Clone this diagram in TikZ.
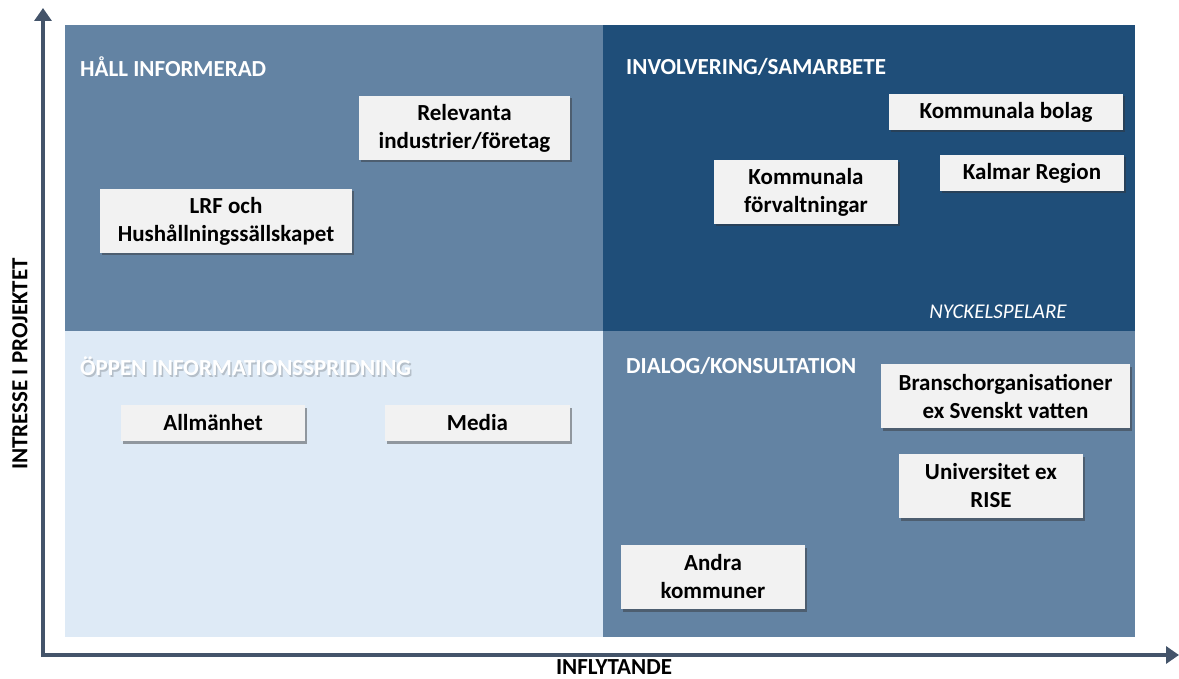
\documentclass[tikz,border=0pt]{standalone}
\usepackage{fontspec}
\setmainfont{Carlito}
\usetikzlibrary{shadows,arrows.meta}
\definecolor{midblue}{HTML}{6383A3}
\definecolor{darkblue}{HTML}{1F4E79}
\definecolor{lightblue}{HTML}{DEEAF6}
\definecolor{axiscol}{HTML}{44546A}
\definecolor{boxfill}{HTML}{F2F2F2}
\tikzset{
  stakebox/.style={draw=none, fill=boxfill, inner sep=0pt, align=center,
    font=\bfseries\fontsize{23}{28}\selectfont, text=black,
    drop shadow={shadow xshift=2pt, shadow yshift=-2.5pt, opacity=0.45, fill=black!80}},
  quadlabel/.style={anchor=west, text=white, font=\bfseries\fontsize{23}{28}\selectfont, inner sep=0pt},
  qshadow/.style={anchor=west, text=black, opacity=0.18, font=\bfseries\fontsize{23}{28}\selectfont, inner sep=0pt},
  axislabel/.style={font=\bfseries\fontsize{23}{28}\selectfont, text=black, inner sep=0pt},
  axisline/.style={draw=axiscol, line width=4pt, -{Triangle[length=13pt,width=17pt]}}
}
\begin{document}
\begin{tikzpicture}[x=1pt,y=-1pt]
\useasboundingbox (0,0) rectangle (1179,679);
% quadrants
\fill[midblue] (65,25) rectangle (603,331);
\fill[darkblue] (603,25) rectangle (1135,331);
\fill[lightblue] (65,331) rectangle (603,637);
\fill[midblue] (603,331) rectangle (1135,637);
% axes
\coordinate (ytip) at (43,8);
\coordinate (xtip) at (1179,655);
\draw[axisline] (43,657) -- (ytip);
\draw[axisline] (41,655) -- (xtip);
\node[axislabel] (xlab) at (614,667) {INFLYTANDE};
\node[axislabel, rotate=90] (ylab) at (20,364) {INTRESSE I PROJEKTET};
% quadrant labels
\node[quadlabel] (q1) at (80,67) {HÅLL INFORMERAD};
\node[quadlabel] (q2) at (626,67) {INVOLVERING/SAMARBETE};
\node[qshadow] at (81.5,368) {ÖPPEN INFORMATIONSSPRIDNING};
\node[quadlabel] (q3) at (80,366) {ÖPPEN INFORMATIONSSPRIDNING};
\node[quadlabel] (q4) at (626,366) {DIALOG/KONSULTATION};
\node[text=white, font=\itshape\fontsize{21}{25}\selectfont, inner sep=0pt] (nyck) at (998,312) {NYCKELSPELARE};
% boxes
\node[stakebox, minimum width=211pt, minimum height=64pt] (rel) at (464.5,128) {Relevanta\\industrier/företag};
\node[stakebox, minimum width=252pt, minimum height=64pt] (lrf) at (226,221) {LRF och\\Hushållningssällskapet};
\node[stakebox, minimum width=234pt, minimum height=36pt] (kbol) at (1006,112) {Kommunala bolag};
\node[stakebox, minimum width=184pt, minimum height=36pt] (kreg) at (1032,173) {Kalmar Region};
\node[stakebox, minimum width=184pt, minimum height=64pt] (kfor) at (806,192) {Kommunala\\förvaltningar};
\node[stakebox, minimum width=184pt, minimum height=36pt] (allm) at (213,423) {Allmänhet};
\node[stakebox, minimum width=185pt, minimum height=36pt] (media) at (477.5,423) {Media};
\node[stakebox, minimum width=249pt, minimum height=64pt] (bransch) at (1005.5,396) {Branschorganisationer\\ex Svenskt vatten};
\node[stakebox, minimum width=184pt, minimum height=64pt] (univ) at (991,486) {Universitet ex\\RISE};
\node[stakebox, minimum width=184pt, minimum height=64pt] (andra) at (713,577) {Andra\\kommuner};
\end{tikzpicture}
\end{document}
